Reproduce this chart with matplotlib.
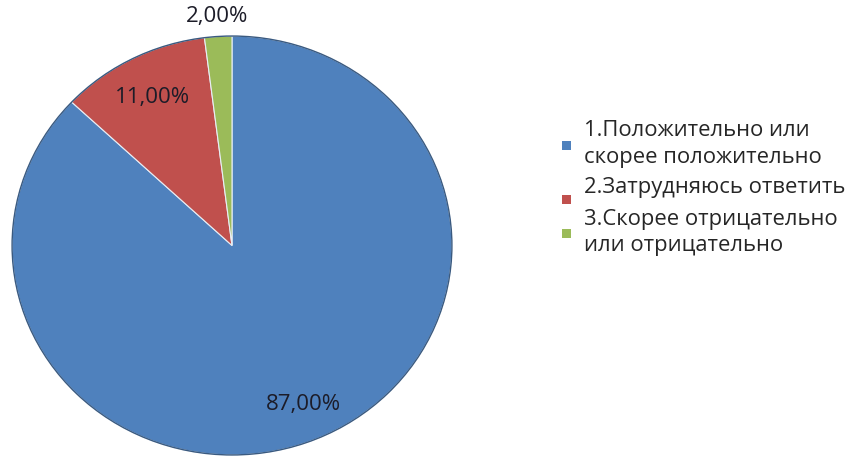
import numpy as np
import matplotlib
matplotlib.use('Agg')
from matplotlib import pyplot
from matplotlib.patches import Ellipse, Rectangle

# Data
labels = ['1.Положительно или\nскорее положительно',
          '2.Затрудняюсь ответить',
          '3.Скорее отрицательно\nили отрицательно']
values = [87.0, 11.0, 2.0]
colors = ['#4F81BD', '#C0504D', '#9BBB59']
label_r = [0.82, 0.80, 1.10]

pyplot.rcParams['font.family'] = ['Open Sans', 'DejaVu Sans']

fig = pyplot.figure(figsize=(8.5, 4.6), dpi=100)
ax = fig.add_axes([11/850, 3/460, 442/850, 421/460])

wedges, _ = ax.pie(values, colors=colors, startangle=90, counterclock=False,
                   wedgeprops=dict(edgecolor='#e8eef5', linewidth=0.8))
ax.add_patch(Ellipse((0, 0), 2, 2, facecolor='none', edgecolor='#3a5a80', linewidth=1.0, zorder=5))
ax.set_aspect('auto')
ax.set_xlim(-1.005, 1.005)
ax.set_ylim(-1.005, 1.005)
ax.axis('off')

# percentage labels
for w, v, r in zip(wedges, values, label_r):
    ang = np.deg2rad((w.theta1 + w.theta2) / 2.0)
    txt = ('%.2f' % v).replace('.', ',') + '%'
    ax.text(r*np.cos(ang), r*np.sin(ang), txt,
            ha='center', va='center', fontsize=16, color='#1c1c28', zorder=6)

# legend, drawn by hand line by line
lx = 562/850
tx = 584/850
line_h = 26/460
gap = 5/460
sq_w, sq_h = 9/850, 9/460
y = 1 - 131/460
for lab, c in zip(labels, colors):
    lines = lab.split('\n')
    mid = y - (len(lines) - 1) * line_h / 2
    if len(lines) == 1:
        mid -= 12/460
    else:
        mid -= 2/460
    fig.patches.append(Rectangle((lx, mid - sq_h/2), sq_w, sq_h,
                                 transform=fig.transFigure, facecolor=c, edgecolor='none'))
    for ln in lines:
        fig.text(tx, y, ln, ha='left', va='center', fontsize=15.8, color='#262626')
        y -= line_h
    y -= gap

fig.savefig('out.png', dpi=100)
